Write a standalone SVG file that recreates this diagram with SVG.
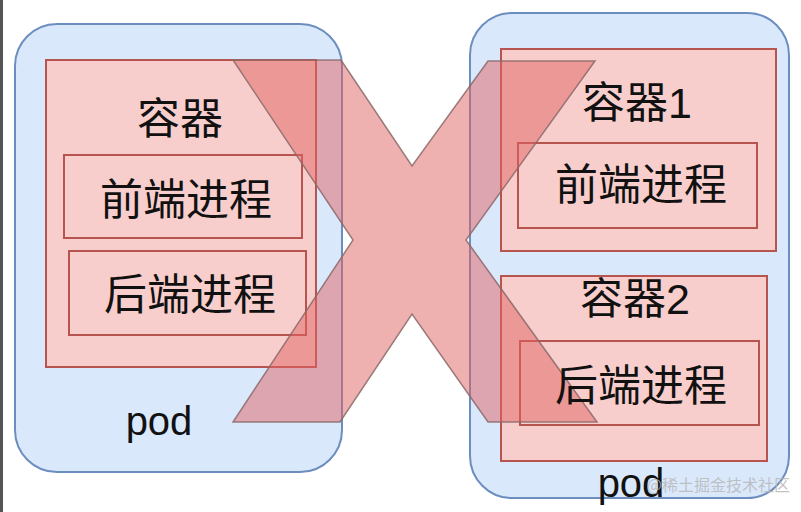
<svg xmlns="http://www.w3.org/2000/svg" width="801" height="512" viewBox="0 0 801 512">
<style>
.pod{fill:#dae8fc;stroke:#6c8ebf;stroke-width:2}
.box{fill:#f8cecc;stroke:#b85450;stroke-width:2}
.cn{font-family:"Liberation Sans","Noto Sans CJK SC",sans-serif;font-size:43px;fill:#111;text-anchor:middle;dominant-baseline:central}
.en{font-family:"Liberation Sans",Arial,sans-serif;font-size:40px;fill:#111;text-anchor:middle}
</style>
<rect x="0" y="0" width="801" height="512" fill="#ffffff"/>
<rect x="0" y="0" width="3" height="512" fill="#555555"/>
<g id="pod-left">
<rect class="pod" x="15" y="24" width="327" height="448" rx="42" ry="42"/>
</g>
<g id="container-left">
<rect class="box" x="46" y="60" width="270" height="307"/>
</g>
<g id="frontend-left">
<rect class="box" x="64" y="155" width="238" height="83"/>
</g>
<g id="backend-left">
<rect class="box" x="69" y="251" width="237" height="84"/>
</g>
<g id="pod-right">
<rect class="pod" x="470" y="13" width="319" height="485" rx="42" ry="42"/>
</g>
<g id="container1">
<rect class="box" x="501" y="49" width="275" height="202"/>
</g>
<g id="frontend-right">
<rect class="box" x="518" y="143" width="239" height="85"/>
</g>
<g id="container2">
<rect class="box" x="501" y="276" width="266" height="185"/>
</g>
<g id="backend-right">
<rect class="box" x="520" y="341" width="239" height="84"/>
</g>
<g id="cross">
<polygon points="233,60 341,60 412,166 488,61 595,61 466,240 597,422 488,422 412,314 340,422 233,422 353,240" fill="#e06262" fill-opacity="0.5" stroke="#8a6868" stroke-opacity="0.85" stroke-width="1.5" stroke-linejoin="miter"/>
</g>
<g id="labels">
<text class="cn" x="180" y="119">容器</text>
<text class="cn" x="186" y="200">前端进程</text>
<text class="cn" x="190" y="295">后端进程</text>
<text class="en" x="159" y="435">pod</text>
<text class="cn" x="637" y="103">容器1</text>
<text class="cn" x="641" y="185">前端进程</text>
<text class="cn" x="635" y="299">容器2</text>
<text class="cn" x="641" y="386">后端进程</text>
<text class="en" x="631" y="497">pod</text>
</g>
<text x="790" y="491" text-anchor="end" font-family="'Noto Sans CJK SC',sans-serif" font-size="16" fill="#b8b8b8" fill-opacity="0.85">@稀土掘金技术社区</text>
</svg>
